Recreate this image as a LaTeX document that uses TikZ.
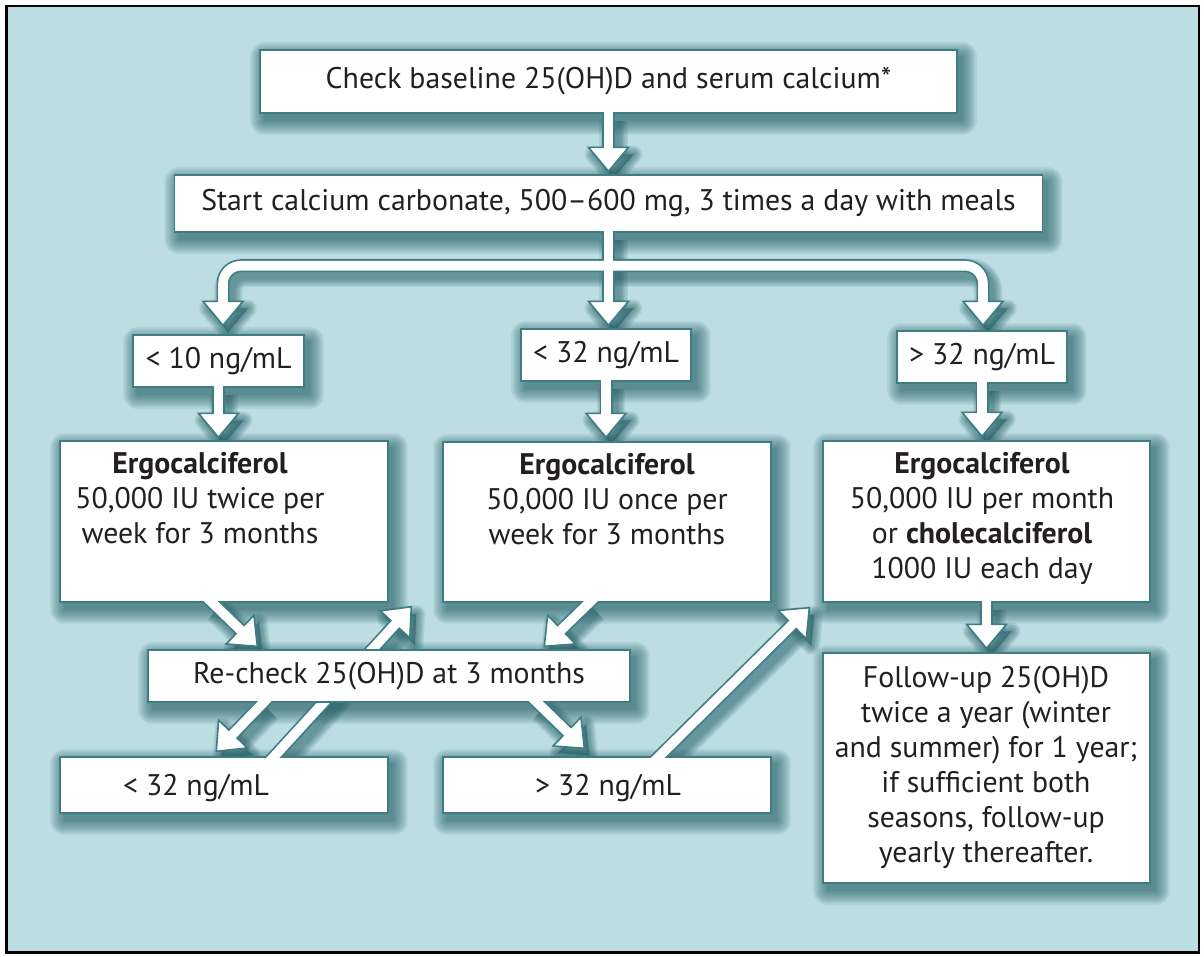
\documentclass[tikz,border=0pt]{standalone}
\usepackage{fontspec}
\setmainfont{PT Sans}
\usetikzlibrary{calc}
\definecolor{bgc}{HTML}{BCDDE1}
\definecolor{tealc}{HTML}{3F7D84}
\definecolor{shc}{HTML}{1F5A61}
\definecolor{txt}{HTML}{231F20}
\pgfdeclarelayer{back}
\pgfdeclarelayer{shaft}
\pgfdeclarelayer{arr}
\pgfdeclarelayer{over}
\pgfdeclarelayer{top}
\pgfsetlayers{back,shaft,main,arr,over,top}
\newcommand\fs{\fontsize{29.8}{35}\selectfont}
\tikzset{
  box/.style={draw=tealc, line width=1.4pt, fill=white, inner sep=0pt, text=txt, font=\fs},
  lbl/.style={inner sep=0pt, text=txt, font=\fs},
  headst/.style={fill=white, draw=tealc, line width=1.6pt},
  tealshaft/.style={tealc, line width=13pt},
  whiteshaft/.style={white, line width=9.6pt},
}
\newcommand\bshadow[1]{%
  \foreach \e in {0,2,...,14}{%
    \fill[shc, opacity=0.11, rounded corners=\e pt] ($(#1.south west)+(5-\e,7+\e)$) rectangle ($(#1.north east)+(5+\e,7-\e)$);
  }}
\newcommand\headat[2]{% tip, base
  \filldraw[headst] ($(#2)!20pt!90:(#1)$) -- (#1) -- ($(#2)!20pt!-90:(#1)$) -- cycle;}
\newcommand\headshadow[2]{%
  \filldraw[shc, opacity=0.1, line width=\hw pt, line join=round] ($(#2)!20pt!90:(#1)$) -- (#1) -- ($(#2)!20pt!-90:(#1)$) -- cycle;}
% #1 layer, #2 start coordinate, #3 tip coordinate
\newcommand\harrow[3]{%
  \path (#3) coordinate (hT);
  \path ($(#3)!24pt!(#2)$) coordinate (hB);
  \path ($(#2)!-8pt!(#3)$) coordinate (hS);
  \path ($(hB)!2.5pt!(hT)$) coordinate (hE);
  \begin{pgfonlayer}{back}
    \begin{scope}[transform canvas={xshift=5pt,yshift=-7pt}]
      \foreach \k in {1,...,7}{%
        \pgfmathsetmacro\lw{11+2.5*\k}%
        \pgfmathsetmacro\hw{2.5*\k}%
        \draw[shc, opacity=0.1, line width=\lw pt] (#2) -- (hB);
        \headshadow{hT}{hB}
      }
    \end{scope}
  \end{pgfonlayer}
  \begin{pgfonlayer}{shaft}
    \draw[tealshaft] (hS) -- (hB);
  \end{pgfonlayer}
  \begin{pgfonlayer}{#1}
    \headat{hT}{hB}
    \draw[whiteshaft] (hS) -- (hE);
  \end{pgfonlayer}
}
\begin{document}
\begin{tikzpicture}[x=1pt,y=-1pt]
\useasboundingbox (0,0) rectangle (1204,956);
\begin{pgfonlayer}{back}
  \fill[white] (0,0) rectangle (1204,956);
  \filldraw[fill=bgc, draw=black, line width=2.5pt] (6.5,6) rectangle (1199,952.5);
\end{pgfonlayer}

% boxes
\node[box, minimum width=697pt, minimum height=63pt] (b1) at (608.5,81.5) {Check baseline 25(OH)D and serum calcium*};
\node[box, minimum width=868pt, minimum height=57pt] (b2) at (608.5,203.5) {Start calcium carbonate, 500–600 mg, 3 times a day with meals};
\node[box, minimum width=171pt, minimum height=52pt] (t1) at (218.5,361) {< 10 ng/mL};
\node[box, minimum width=170pt, minimum height=52pt] (t2) at (606,355) {< 32 ng/mL};
\node[box, minimum width=170pt, minimum height=52pt] (t3) at (982,357) {> 32 ng/mL};
\node[box, minimum width=328pt, minimum height=161pt] (e1) at (224,521.5) {};
\node[box, minimum width=328pt, minimum height=160pt] (e2) at (607,522) {};
\node[box, minimum width=327pt, minimum height=161pt] (e3) at (986.5,521.5) {};
\begin{pgfonlayer}{over}
\node[box, minimum width=482pt, minimum height=52pt] (rc) at (389,676) {Re-check 25(OH)D at 3 months};
\end{pgfonlayer}
\node[box, minimum width=328pt, minimum height=56pt] (lb) at (224,785) {};
\node[box, minimum width=328pt, minimum height=56pt] (gb) at (607,785) {};
\node[box, minimum width=327pt, minimum height=230pt] (fu) at (986.5,768) {};

% texts
\node[lbl, anchor=base] (e1t) at (200,473) {\begin{tabular}[t]{@{}c@{}}\textbf{Ergocalciferol}\\50,000 IU twice per\\week for 3 months\end{tabular}};
\node[lbl, anchor=base] (e2t) at (607,474) {\begin{tabular}[t]{@{}c@{}}\textbf{Ergocalciferol}\\50,000 IU once per\\week for 3 months\end{tabular}};
\node[lbl, anchor=base] (e3t) at (982,473) {\begin{tabular}[t]{@{}c@{}}\textbf{Ergocalciferol}\\50,000 IU per month\\or \textbf{cholecalciferol}\\1000 IU each day\end{tabular}};
\node[lbl, anchor=base] (lbt) at (196,795) {< 32 ng/mL};
\node[lbl, anchor=base] (gbt) at (608,795) {> 32 ng/mL};
\node[lbl, anchor=base] (fut) at (986,687) {\begin{tabular}[t]{@{}c@{}}Follow-up 25(OH)D\\twice a year (winter\\and summer) for 1 year;\\if sufficient both\\seasons, follow-up\\yearly thereafter.\end{tabular}};

% shadows of boxes
\begin{pgfonlayer}{back}
  \foreach \n in {b1,b2,t1,t2,t3,e1,e2,e3,rc,lb,gb,fu} {\bshadow{\n}}
\end{pgfonlayer}

% connector coordinates
\coordinate (a0s) at (b1.south);
\coordinate (a0t) at ($(b2.north)+(0,-3)$);
\coordinate (a1s) at (t1.south);
\coordinate (a1t) at ($(t1.south |- e1.north)+(0,-3)$);
\coordinate (a2s) at (t2.south);
\coordinate (a2t) at ($(t2.south |- e2.north)+(0,-4)$);
\coordinate (a3s) at (t3.south);
\coordinate (a3t) at ($(t3.south |- e3.north)+(0,-4)$);
\coordinate (a4s) at (e3.south);
\coordinate (a4t) at ($(e3.south |- fu.north)+(0,-4)$);
\coordinate (d1s) at ($(e1.south west)+(153,0)$);
\coordinate (d1t) at ($(rc.north west)+(110,-3)$);
\coordinate (d2s) at ($(lb.north west)+(215,0)$);
\coordinate (d2t) at ($(e2.south west)+(-31,4)$);
\coordinate (d3s) at ($(e2.south west)+(147,0)$);
\coordinate (d3t) at ($(rc.north west)+(397,-3)$);
\coordinate (d4s) at ($(rc.south west)+(116,0)$);
\coordinate (d4t) at ($(lb.north west)+(157,-5)$);
\coordinate (d5s) at ($(rc.south west)+(390,0)$);
\coordinate (d5t) at ($(gb.north west)+(142,-8)$);
\coordinate (d6s) at ($(gb.north west)+(217,0)$);
\coordinate (d6t) at ($(e3.south west)+(-13,5)$);

\harrow{top}{a0s}{a0t}
\harrow{top}{a1s}{a1t}
\harrow{top}{a2s}{a2t}
\harrow{top}{a3s}{a3t}
\harrow{top}{a4s}{a4t}
\harrow{top}{d1s}{d1t}
\harrow{arr}{d2s}{d2t}
\harrow{top}{d3s}{d3t}
\harrow{top}{d4s}{d4t}
\harrow{top}{d5s}{d5t}
\harrow{top}{d6s}{d6t}

% branch connector from b2
\coordinate (brS) at ($(b2.south)+(0,-8)$);
\coordinate (brY) at ($(b2.south)+(0,33)$);
\coordinate (brL) at ($(t1.north)+(4.5,-9)$);
\coordinate (brM) at ($(t2.north)+(2.5,-3)$);
\coordinate (brR) at ($(t3.north)+(1,-5)$);
\coordinate (brLb) at ($(brL)+(0,-24)$);
\coordinate (brMb) at ($(brM)+(0,-24)$);
\coordinate (brRb) at ($(brR)+(0,-24)$);
\begin{pgfonlayer}{back}
  \begin{scope}[transform canvas={xshift=5pt,yshift=-7pt}]
    \foreach \k in {1,...,7}{%
      \pgfmathsetmacro\lw{11+2.5*\k}%
      \pgfmathsetmacro\hw{2.5*\k}%
      \draw[shc, opacity=0.1, line width=\lw pt, rounded corners=18pt] (brLb) -- (brLb |- brY) -- (brRb |- brY) -- (brRb);
      \draw[shc, opacity=0.1, line width=\lw pt] (b2.south) -- (brMb);
      \headshadow{brL}{brLb}
      \headshadow{brM}{brMb}
      \headshadow{brR}{brRb}
    }
  \end{scope}
\end{pgfonlayer}
\begin{pgfonlayer}{shaft}
  \draw[tealshaft, rounded corners=18pt] (brLb) -- (brLb |- brY) -- (brRb |- brY) -- (brRb);
  \draw[tealshaft] (brS) -- (brMb);
\end{pgfonlayer}
\begin{pgfonlayer}{top}
  \headat{brL}{brLb}
  \headat{brM}{brMb}
  \headat{brR}{brRb}
  \draw[whiteshaft, rounded corners=18pt] ($(brLb)+(0,2.5)$) -- (brLb |- brY) -- (brRb |- brY) -- ($(brRb)+(0,2.5)$);
  \draw[whiteshaft] (brS) -- ($(brMb)+(0,2.5)$);
\end{pgfonlayer}
\end{tikzpicture}
\end{document}
